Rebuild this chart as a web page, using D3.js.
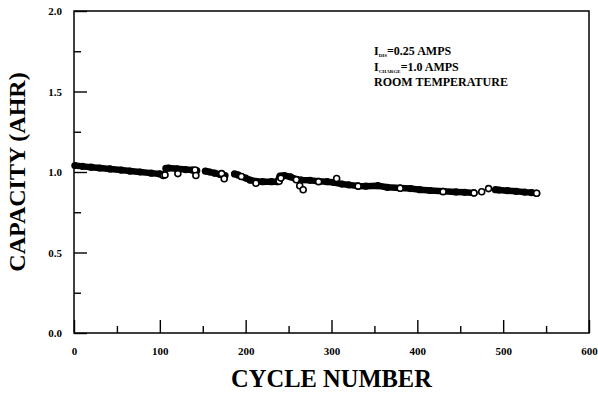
<!DOCTYPE html>
<html>
<head>
<meta charset="utf-8">
<script src="https://cdn.jsdelivr.net/npm/d3@7"></script>
<style>
  body { margin: 0; background: #fff; }
  svg { display: block; }
  .axis text { font: bold 11px "Liberation Serif", "Times New Roman", serif; fill: #000; }
  .axis line { stroke: #000; stroke-width: 1.4; }
  .title { font-family: "Liberation Serif", "Times New Roman", serif; font-weight: bold; fill: #000; }
</style>
</head>
<body>
<svg id="chart" width="598" height="396"></svg>
<script>
// Ticks
var xTicks = [0, 100, 200, 300, 400, 500, 600],
    xMinor = [50, 150, 250, 350, 450, 550],
    yTicks = [0.0, 0.5, 1.0, 1.5, 2.0],
    yMinor = [0.25, 0.75, 1.25, 1.75];

// Dense run of markers (cycle, capacity) per segment
var segACycle = [1, 10, 20, 30, 42, 55, 65, 77, 90, 100, 104],
    segACap   = [1.040, 1.035, 1.030, 1.025, 1.019, 1.012, 1.006, 1.000, 0.993, 0.988, 0.982];
var segBCycle = [107, 110, 120, 130, 138, 143],
    segBCap   = [1.022, 1.025, 1.020, 1.015, 1.012, 1.008];
var segCCycle = [153, 158, 164, 170, 176],
    segCCap   = [1.006, 1.000, 0.993, 0.985, 0.978];
var segDCycle = [187, 191, 195, 200, 205, 212, 220, 230, 237, 240, 245, 252, 259, 265, 275, 285, 295, 303,
                 312, 320, 331, 340, 354, 365, 380, 392, 403, 415, 430, 445, 455, 466],
    segDCap   = [0.988, 0.982, 0.972, 0.962, 0.950, 0.942, 0.940, 0.940, 0.940, 0.975, 0.978, 0.970, 0.955, 0.950, 0.948, 0.942, 0.940, 0.935,
                 0.925, 0.920, 0.913, 0.912, 0.915, 0.905, 0.900, 0.897, 0.890, 0.885, 0.880, 0.876, 0.874, 0.870];
var segECycle = [491, 495, 505, 515, 525, 533, 539],
    segECap   = [0.890, 0.888, 0.884, 0.880, 0.875, 0.872, 0.868];

// Markers whose open circle stays visible (run ends and strays)
var openCycle = [104, 106, 121, 141, 142, 172, 175, 195, 212, 239, 241, 259, 263, 267, 285, 306, 331, 380, 430, 466, 475, 483, 539],
    openCap   = [0.978, 0.982, 0.990, 1.012, 0.978, 0.990, 0.958, 0.972, 0.930, 0.943, 0.962, 0.952, 0.915, 0.890, 0.940, 0.960, 0.912, 0.899, 0.878, 0.870, 0.877, 0.897, 0.868];

var svg = d3.select("#chart");
var plot = {left: 74, right: 589, top: 11, bottom: 333};

var x = d3.scaleLinear().domain([0, 600]).range([plot.left, plot.right]);
var y = d3.scaleLinear().domain([0, 2]).range([plot.bottom, plot.top]);

// frame
svg.append("rect")
    .attr("x", plot.left).attr("y", plot.top)
    .attr("width", plot.right - plot.left).attr("height", plot.bottom - plot.top)
    .attr("fill", "none").attr("stroke", "#000").attr("stroke-width", 1.5);

// x axis, ticks pointing inward
svg.append("g")
    .attr("class", "axis")
    .attr("transform", "translate(0," + plot.bottom + ")")
    .call(d3.axisBottom(x).tickValues(xTicks).tickSize(-13).tickSizeOuter(0).tickPadding(14).tickFormat(d3.format("d")))
    .call(function(g) { g.select(".domain").remove(); });
svg.append("g")
    .attr("class", "axis")
    .attr("transform", "translate(0," + plot.bottom + ")")
    .call(d3.axisBottom(x).tickValues(xMinor).tickSize(-7).tickSizeOuter(0).tickFormat(""))
    .call(function(g) { g.select(".domain").remove(); });

// y axis
svg.append("g")
    .attr("class", "axis")
    .attr("transform", "translate(" + plot.left + ",0)")
    .call(d3.axisLeft(y).tickValues(yTicks).tickSize(-13).tickSizeOuter(0).tickPadding(12).tickFormat(d3.format(".1f")))
    .call(function(g) { g.select(".domain").remove(); });
svg.append("g")
    .attr("class", "axis")
    .attr("transform", "translate(" + plot.left + ",0)")
    .call(d3.axisLeft(y).tickValues(yMinor).tickSize(-7).tickSizeOuter(0).tickFormat(""))
    .call(function(g) { g.select(".domain").remove(); });

// data band
var segments = [
  d3.zip(segACycle, segACap),
  d3.zip(segBCycle, segBCap),
  d3.zip(segCCycle, segCCap),
  d3.zip(segDCycle, segDCap),
  d3.zip(segECycle, segECap)
];
var line = d3.line()
    .x(function(d) { return x(d[0]); })
    .y(function(d) { return y(d[1]); });

svg.append("g").selectAll("path")
    .data(segments)
  .enter().append("path")
    .attr("d", line)
    .attr("fill", "none")
    .attr("stroke", "#000")
    .attr("stroke-width", 6.5)
    .attr("stroke-linecap", "butt")
    .attr("stroke-linejoin", "round");

svg.append("g").selectAll("circle")
    .data(segments.flat())
  .enter().append("circle")
    .attr("cx", function(d) { return x(d[0]); })
    .attr("cy", function(d) { return y(d[1]); })
    .attr("r", 3.6)
    .attr("fill", "#000");

// short link from the stray at 483 to the last run
svg.append("path")
    .datum([[483, 0.897], [491, 0.890]])
    .attr("d", line)
    .attr("fill", "none")
    .attr("stroke", "#000")
    .attr("stroke-width", 2);

svg.append("g").selectAll("circle")
    .data(d3.zip(openCycle, openCap))
  .enter().append("circle")
    .attr("cx", function(d) { return x(d[0]); })
    .attr("cy", function(d) { return y(d[1]); })
    .attr("r", 3)
    .attr("fill", "#fff")
    .attr("stroke", "#000")
    .attr("stroke-width", 1.6);

// axis titles
svg.append("text")
    .attr("class", "title")
    .attr("x", (plot.left + plot.right) / 2)
    .attr("y", 387)
    .attr("text-anchor", "middle")
    .style("font-size", "24.5px")
    .text("CYCLE NUMBER");

svg.append("text")
    .attr("class", "title")
    .attr("transform", "translate(25," + ((plot.top + plot.bottom) / 2) + ") rotate(-90)")
    .attr("text-anchor", "middle")
    .style("font-size", "24px")
    .text("CAPACITY (AHR)");

// test conditions
var notes = svg.append("g")
    .attr("class", "title")
    .style("font-size", "12px");

var n1 = notes.append("text").attr("x", 374).attr("y", 55);
n1.append("tspan").text("I");
n1.append("tspan").attr("dy", 2).style("font-size", "5px").text("DIS");
n1.append("tspan").attr("dy", -2).text("=0.25 AMPS");

var n2 = notes.append("text").attr("x", 374).attr("y", 71);
n2.append("tspan").text("I");
n2.append("tspan").attr("dy", 2).style("font-size", "5px").text("CHARGE");
n2.append("tspan").attr("dy", -2).text("=1.0 AMPS");

notes.append("text").attr("x", 374).attr("y", 86).text("ROOM TEMPERATURE");
</script>
</body>
</html>
